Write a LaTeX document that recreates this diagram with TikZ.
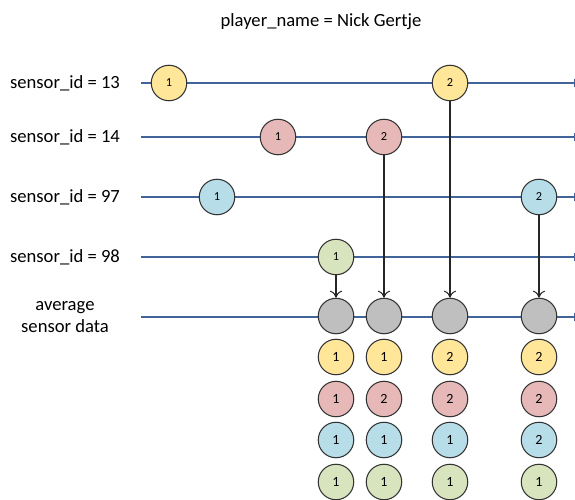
\documentclass[tikz,border=0pt]{standalone}
\usepackage{fontspec}
\setmainfont{Carlito}
\usepackage[HTML]{xcolor}
\usetikzlibrary{arrows.meta}

\definecolor{timeline}{HTML}{41649B}
\definecolor{yel}{HTML}{FFE699}
\definecolor{rose}{HTML}{E6B9B8}
\definecolor{blu}{HTML}{B7DDE8}
\definecolor{grn}{HTML}{D7E4BD}
\definecolor{gry}{HTML}{BFBFBF}

\begin{document}
\begin{tikzpicture}[x=0.02cm, y=-0.02cm,
  ev/.style={circle, draw=black!80, semithick, minimum size=35.5*0.02cm, inner sep=0pt, font=\fontsize{7}{8}\selectfont},
  lbl/.style={font=\fontsize{10.6}{12.5}\selectfont, align=center},
  tl/.style={timeline, semithick, -{Bar[width=5pt]}},
  feed/.style={draw=black!85, semithick, -{To[length=4pt,width=7pt]}}]
\useasboundingbox (0,0) rectangle (575,500);

\node[lbl] (title) at (321,22) {player\_name = Nick Gertje};

% timelines, one per sensor
\foreach \name/\y in {13/83, 14/137, 97/197, 98/257} {
  \node[lbl] (lab\name) at (65,\y) {sensor\_id = \name};
  \coordinate (st\name) at (141,\y);
  \coordinate (en\name) at (575,\y);
  \draw[tl] (st\name) -- (en\name);
}
\node[lbl] (labavg) at (65,317) {average\\sensor data};
\coordinate (stavg) at (141,317);
\coordinate (enavg) at (575,317);
\draw[tl] (stavg) -- (enavg);

% sensor events
\node[ev, fill=yel] (a1) at (169,83) {1};
\node[ev, fill=yel] (a2) at (450,83) {2};
\node[ev, fill=rose] (b1) at (278,137) {1};
\node[ev, fill=rose] (b2) at (384,137) {2};
\node[ev, fill=blu] (c1) at (217,197) {1};
\node[ev, fill=blu] (c2) at (539,197) {2};
\node[ev, fill=grn] (d1) at (336,257) {1};

% averages
\node[ev, fill=gry] (m1) at (336,316) {};
\node[ev, fill=gry] (m2) at (384,316) {};
\node[ev, fill=gry] (m3) at (450,316) {};
\node[ev, fill=gry] (m4) at (539,316) {};

\draw[feed] (d1) -- (m1);
\draw[feed] (b2) -- (m2);
\draw[feed] (a2) -- (m3);
\draw[feed] (c2) -- (m4);

% state of each sensor at every average
\foreach \col/\x/\p/\q/\r/\s in {1/336/1/1/1/1, 2/384/1/2/1/1, 3/450/2/2/1/1, 4/539/2/2/2/1} {
  \node[ev, fill=yel, font=\fontsize{8}{9}\selectfont] (y\col) at (\x,357) {\p};
  \node[ev, fill=rose, font=\fontsize{8}{9}\selectfont] (r\col) at (\x,399) {\q};
  \node[ev, fill=blu, font=\fontsize{8}{9}\selectfont] (u\col) at (\x,440) {\r};
  \node[ev, fill=grn, font=\fontsize{8}{9}\selectfont] (g\col) at (\x,482) {\s};
}
\end{tikzpicture}
\end{document}
